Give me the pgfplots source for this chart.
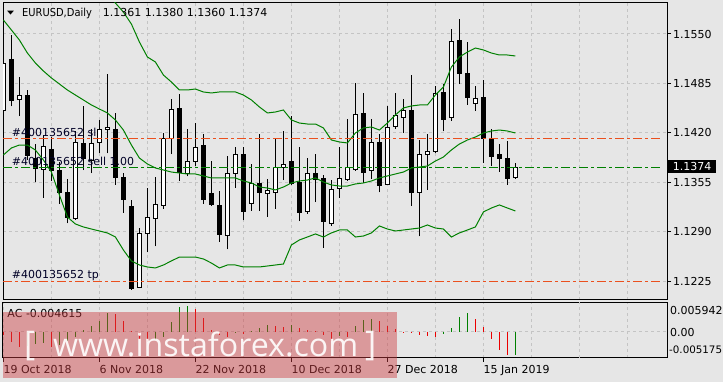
\documentclass[border=0pt]{standalone}
\usepackage{fontspec}
\setmainfont{DejaVu Sans}
\newfontfamily\wmfont{Open Sans}
\usepackage{pgfplots}
\pgfplotsset{compat=1.18}
\usepackage{pgfplotstable}

\definecolor{bg}{RGB}{230,230,230}
\definecolor{gridc}{RGB}{196,196,196}
\definecolor{mtgreen}{RGB}{0,128,0}
\definecolor{ordred}{RGB}{235,80,30}
\definecolor{acred}{RGB}{235,0,0}
\definecolor{wmpink}{RGB}{205,60,65}
\newcommand\mtfont{\fontsize{11bp}{13bp}\selectfont}

\pgfplotstableread{
i O H L C
0 1.1450 1.1534 1.1433 1.1511
1 1.1516 1.1549 1.1455 1.1462
2 1.1464 1.1493 1.1442 1.1469
3 1.1469 1.1476 1.1385 1.1390
4 1.1387 1.1406 1.1355 1.1373
5 1.1372 1.1417 1.1335 1.1402
6 1.1398 1.1415 1.1357 1.1370
7 1.1371 1.1382 1.1327 1.1342
8 1.1342 1.1359 1.1301 1.1309
9 1.1308 1.1422 1.1306 1.1407
10 1.1406 1.1455 1.1371 1.1387
11 1.1384 1.1425 1.1367 1.1406
12 1.1407 1.1437 1.1393 1.1425
13 1.1425 1.1498 1.1393 1.1427
14 1.1425 1.1446 1.1352 1.1362
15 1.1362 1.1367 1.1315 1.1333
16 1.1323 1.1332 1.1214 1.1216
17 1.1217 1.1295 1.1216 1.1288
18 1.1288 1.1347 1.1263 1.1309
19 1.1308 1.1362 1.1271 1.1326
20 1.1324 1.1420 1.1320 1.1413
21 1.1412 1.1465 1.1392 1.1451
22 1.1452 1.1471 1.1357 1.1368
23 1.1367 1.1425 1.1363 1.1383
24 1.1383 1.1433 1.1377 1.1401
25 1.1404 1.1419 1.1327 1.1333
26 1.1340 1.1383 1.1324 1.1326
27 1.1325 1.1343 1.1277 1.1287
28 1.1285 1.1389 1.1267 1.1366
29 1.1366 1.1402 1.1348 1.1392
30 1.1391 1.1401 1.1305 1.1317
31 1.1327 1.1379 1.1318 1.1353
32 1.1354 1.1419 1.1318 1.1342
33 1.1341 1.1360 1.1310 1.1344
34 1.1342 1.1412 1.1320 1.1375
35 1.1375 1.1423 1.1358 1.1379
36 1.1383 1.1442 1.1352 1.1354
37 1.1355 1.1401 1.1304 1.1315
38 1.1317 1.1387 1.1314 1.1367
39 1.1366 1.1392 1.1329 1.1359
40 1.1360 1.1365 1.1269 1.1303
41 1.1301 1.1358 1.1298 1.1346
42 1.1347 1.1402 1.1335 1.1360
43 1.1359 1.1438 1.1357 1.1375
44 1.1372 1.1485 1.1370 1.1444
45 1.1445 1.1473 1.1354 1.1368
46 1.1371 1.1438 1.1360 1.1408
47 1.1408 1.1419 1.1342 1.1351
48 1.1352 1.1455 1.1352 1.1427
49 1.1428 1.1472 1.1425 1.1443
50 1.1440 1.1465 1.1420 1.1450
51 1.1449 1.1496 1.1324 1.1342
52 1.1342 1.1411 1.1284 1.1391
53 1.1392 1.1418 1.1345 1.1395
54 1.1395 1.1482 1.1393 1.1472
55 1.1473 1.1484 1.1422 1.1438
56 1.1440 1.1557 1.1436 1.1540
57 1.1541 1.1570 1.1484 1.1498
58 1.1498 1.1539 1.1457 1.1466
59 1.1459 1.1482 1.1449 1.1465
60 1.1467 1.1489 1.1381 1.1412
61 1.1411 1.1425 1.1377 1.1389
62 1.1391 1.1405 1.1369 1.1387
63 1.1387 1.1409 1.1352 1.1360
64 1.1361 1.1380 1.1360 1.1374
}\candles

\pgfplotstableread{
i up mid low
0 1.17458 1.15684 1.13910
1 1.17103 1.15553 1.14002
2 1.16801 1.15421 1.14041
3 1.16459 1.15250 1.14041
4 1.16289 1.15119 1.13975
5 1.16183 1.15014 1.13844
6 1.16131 1.14922 1.13687
7 1.16302 1.14843 1.13384
8 1.16433 1.14764 1.13095
9 1.16394 1.14698 1.13003
10 1.16302 1.14633 1.12964
11 1.16197 1.14567 1.12937
12 1.16118 1.14514 1.12911
13 1.16039 1.14462 1.12885
14 1.15907 1.14370 1.12832
15 1.15789 1.14238 1.12661
16 1.15631 1.14041 1.12517
17 1.15395 1.13870 1.12464
18 1.15198 1.13792 1.12438
19 1.15132 1.13739 1.12425
20 1.14961 1.13713 1.12464
21 1.14869 1.13686 1.12517
22 1.14764 1.13673 1.12569
23 1.14764 1.13660 1.12569
24 1.14777 1.13660 1.12569
25 1.14738 1.13634 1.12543
26 1.14725 1.13608 1.12490
27 1.14738 1.13608 1.12425
28 1.14738 1.13608 1.12464
29 1.14738 1.13608 1.12464
30 1.14698 1.13568 1.12438
31 1.14633 1.13542 1.12438
32 1.14541 1.13489 1.12438
33 1.14462 1.13476 1.12451
34 1.14475 1.13450 1.12464
35 1.14501 1.13489 1.12477
36 1.14370 1.13542 1.12727
37 1.14330 1.13568 1.12793
38 1.14317 1.13581 1.12832
39 1.14317 1.13608 1.12872
40 1.14265 1.13555 1.12832
41 1.14107 1.13516 1.12885
42 1.14081 1.13502 1.12924
43 1.14068 1.13502 1.12924
44 1.14199 1.13529 1.12832
45 1.14265 1.13542 1.12845
46 1.14278 1.13568 1.12885
47 1.14238 1.13608 1.12977
48 1.14330 1.13634 1.12937
49 1.14436 1.13660 1.12911
50 1.14528 1.13686 1.12924
51 1.14554 1.13739 1.12937
52 1.14567 1.13752 1.12950
53 1.14567 1.13765 1.12990
54 1.14698 1.13831 1.12950
55 1.14803 1.13883 1.12937
56 1.15066 1.13976 1.12832
57 1.15198 1.14054 1.12885
58 1.15263 1.14107 1.12924
59 1.15316 1.14146 1.12964
60 1.15290 1.14199 1.13161
61 1.15250 1.14225 1.13213
62 1.15224 1.14238 1.13253
63 1.15224 1.14225 1.13213
64 1.15211 1.14199 1.13174
}\bands

\pgfplotstableread{
i v
3 -0.0029
4 -0.0025
5 -0.0022
7 -0.0026
8 -0.0019
9 -0.0011
10 0.0004
11 0.0011
12 0.0021
13 0.0037
19 -0.0017
20 -0.0010
21 0.0020
22 0.0049
23 0.0051
29 -0.0002
31 0.0002
32 0.0007
33 0.0014
36 0.0014
42 -0.0009
44 0.0011
45 0.0024
46 0.0026
55 -0.0005
56 0.0007
57 0.0030
58 0.0038
64 -0.0046
}\acup

\pgfplotstableread{
i v
0 -0.0006
1 -0.0021
2 -0.0031
6 -0.0031
14 0.0036
15 0.0021
16 0.0002
17 -0.0015
18 -0.0020
24 0.0046
25 0.0027
26 0.0004
27 -0.0007
28 -0.0011
30 -0.0004
34 0.0011
35 0.0010
37 0.0007
38 0.0004
39 0.0001
40 -0.0006
41 -0.0018
43 -0.0010
47 0.0021
48 0.0011
49 0.0005
50 -0.0001
51 -0.0001
52 -0.0007
53 -0.0009
54 -0.0011
59 0.0026
60 0.0009
61 -0.0015
62 -0.0037
63 -0.0047
}\acdown

\pgfplotsset{
  candlebull/.style={draw=black, fill=white, line width=1bp},
  candlebear/.style={draw=black, fill=black, line width=1bp},
  candlewick/.style={black, line width=1bp},
  orderline/.style={line width=1bp, dash pattern=on 9bp off 3bp on 3bp off 3bp},
}

\begin{document}
\begin{tikzpicture}
\useasboundingbox (0,0) rectangle (723bp,382bp);
\fill[bg] (0,0) rectangle (723bp,382bp);
\begin{scope}
\clip (0,0) rectangle (723bp,382bp);

% ---------------- main price panel ----------------
\begin{axis}[
  at={(3bp,82bp)}, anchor=south west, scale only axis,
  width=664bp, height=297.5bp,
  xmin=-0.05, xmax=82.95, ymin=1.12004, ymax=1.15914,
  axis line style={black, line width=1bp},
  xtick={6,12,...,78}, xticklabels={}, xtick style={draw=none},
  xmajorgrids, ymajorgrids,
  ytick={1.1225,1.1290,1.1355,1.1420,1.1485,1.1550},
  yticklabels={1.1225,1.1290,1.1355,1.1420,1.1485,1.1550},
  ytick pos=right, yticklabel pos=right, tick align=outside,
  major tick length=4bp,
  ytick style={black, line width=1bp},
  yticklabel style={font=\mtfont, anchor=west, inner sep=0pt, xshift=2bp},
  grid style={gridc, dash pattern=on 3bp off 3bp, line width=1bp},
]
\pgfplotsinvokeforeach{0,...,64}{
  \pgfplotstablegetelem{#1}{O}\of\candles \let\vO\pgfplotsretval
  \pgfplotstablegetelem{#1}{H}\of\candles \let\vH\pgfplotsretval
  \pgfplotstablegetelem{#1}{L}\of\candles \let\vL\pgfplotsretval
  \pgfplotstablegetelem{#1}{C}\of\candles \let\vC\pgfplotsretval
  \pgfmathsetmacro\xl{#1-0.25}
  \pgfmathsetmacro\xr{#1+0.25}
  \edef\doplot{%
    \noexpand\addplot[candlewick] coordinates {(#1,\vL) (#1,\vH)};
    \noexpand\addplot[\ifdim\vC pt<\vO pt candlebear\else candlebull\fi]
      coordinates {(\xl,\vO) (\xr,\vO) (\xr,\vC) (\xl,\vC)} --cycle;
  }
  \doplot
}
\addplot[mtgreen, line width=1bp] table[x=i, y=up] {\bands};
\addplot[mtgreen, line width=1bp] table[x=i, y=mid] {\bands};
\addplot[mtgreen, line width=1bp] table[x=i, y=low] {\bands};
\addplot[ordred, orderline] coordinates {(-0.05,1.1412) (82.07,1.1412)};
\addplot[ordred, orderline] coordinates {(-0.05,1.1225) (82.07,1.1225)};
\addplot[mtgreen, orderline] coordinates {(-0.05,1.1375) (82.07,1.1375)};
\end{axis}

% ---------------- AC panel ----------------
\begin{axis}[
  at={(3bp,24.3bp)}, anchor=south west, scale only axis,
  width=664bp, height=55.4bp,
  xmin=-0.05, xmax=82.95, ymin=-0.005175, ymax=0.005942,
  axis line style={black, line width=1bp},
  xtick={0,12,...,60},
  xticklabels={19 Oct 2018, 6 Nov 2018, 22 Nov 2018, 10 Dec 2018, 27 Dec 2018, 15 Jan 2019},
  xtick pos=bottom, tick align=outside, major tick length=4bp,
  xtick style={black, line width=1bp},
  minor xtick={6,18,...,78}, minor tick length=0pt,
  extra x ticks={72}, extra x tick labels={},
  extra x tick style={grid=major, major tick length=0pt},
  xmajorgrids, xminorgrids, ymajorgrids,
  ytick={0}, yticklabels={}, ytick style={draw=none},
  scaled y ticks=false,
  xticklabel style={font=\mtfont, anchor=base west, inner sep=0pt, yshift=-12bp},
  grid style={gridc, dash pattern=on 3bp off 3bp, line width=1bp},
  minor grid style={gridc, dash pattern=on 3bp off 3bp, line width=1bp},
]
\addplot[ycomb, mtgreen, line width=1bp] table[x=i, y=v] {\acup};
\addplot[ycomb, acred, line width=1bp] table[x=i, y=v] {\acdown};
\end{axis}

% ---------------- texts ----------------
\node[anchor=base, inner sep=0pt, font=\fontsize{7bp}{7bp}\selectfont] at (10.5bp,367bp) {\scalebox{1.3}[0.75]{▼}};
\node[anchor=base west, inner sep=0pt, font=\mtfont] at (22bp,365.3bp) {\scalebox{0.9}[1]{EURUSD,Daily}};
\node[anchor=base west, inner sep=0pt, font=\mtfont] at (102.7bp,365.3bp) {1.1361 1.1380 1.1360 1.1374};

\node[anchor=base west, inner sep=0pt, font=\mtfont, text=black!85!blue] at (11.7bp,245.3bp) {\#400135652 sl};
\node[anchor=base west, inner sep=0pt, font=\mtfont, text=black!85!blue] at (11.7bp,216bp) {\#400135652 sell 1.00};
\node[anchor=base west, inner sep=0pt, font=\mtfont, text=black!85!blue] at (11.7bp,103.7bp) {\#400135652 tp};

\node[fill=black, text=white, anchor=west, inner xsep=5bp, inner ysep=0pt, minimum height=13.3bp, font=\mtfont] at (667.7bp,215.3bp) {1.1374};

\node[anchor=base west, inner sep=0pt, font=\mtfont] at (7.3bp,64.3bp) {AC -0.004615};
\node[anchor=west, inner sep=0pt, font=\mtfont] at (670bp,71.2bp) {0.005942};
\node[anchor=west, inner sep=0pt, font=\mtfont] at (670bp,49.5bp) {0.00};
\node[anchor=west, inner sep=0pt, font=\fontsize{10.3bp}{12bp}\selectfont] at (669bp,32bp) {-0.005175};

% ---------------- watermark ----------------
\fill[wmpink, fill opacity=0.45] (3bp,3.7bp) rectangle (397bp,69.7bp);
\node[anchor=base west, inner sep=0pt, text=white, text opacity=0.9, font=\wmfont\fontsize{34bp}{34bp}\selectfont] at (24bp,27bp) {[};
\node[anchor=base west, inner sep=0pt, text=white, text opacity=0.9] at (53bp,25.3bp) {\resizebox{305bp}{!}{\wmfont\fontsize{34bp}{34bp}\selectfont www.instaforex.com}};
\node[anchor=base west, inner sep=0pt, text=white, text opacity=0.9, font=\wmfont\fontsize{34bp}{34bp}\selectfont] at (365bp,27bp) {]};
\end{scope}
\end{tikzpicture}
\end{document}
